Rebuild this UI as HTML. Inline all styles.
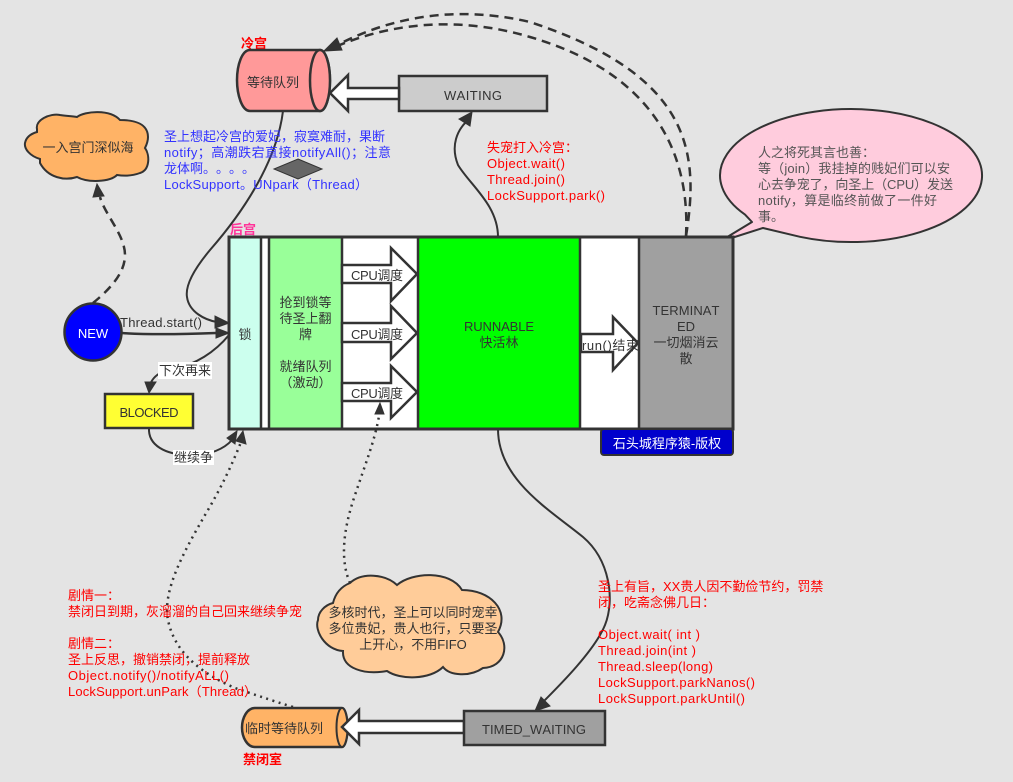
<!DOCTYPE html>
<html><head><meta charset="utf-8"><style>
html,body{margin:0;padding:0;background:#e4e4e4}
svg{display:block}
text{font-family:"Liberation Sans","Noto Sans CJK SC",sans-serif;font-size:13px;fill:#333;text-spacing-trim:space-all;font-kerning:none}
.c{text-anchor:middle}
.r text,text.r{fill:#f00}
.b text{fill:#33f}
.p text{fill:#555}
.s{fill:none;stroke:#333;stroke-width:2.5}
.t{fill:none;stroke:#333;stroke-width:2}
.d{fill:none;stroke:#333;stroke-width:2.5;stroke-dasharray:9 6}
.o{fill:none;stroke:#333;stroke-width:2.5;stroke-dasharray:2 4.5}
.a{fill:#333;stroke:#333}
.w{fill:#fff;stroke:#333;stroke-width:2.5}
</style></head><body>
<svg width="1013" height="782" viewBox="0 0 1013 782" xmlns="http://www.w3.org/2000/svg">
<rect width="1013" height="782" fill="#e4e4e4"/>

<text x="241" y="48" class="r" style="font-weight:bold">冷宫</text>
<text x="230" y="234" style="fill:#f39;font-weight:bold">后宫</text>

<!-- curves under shapes -->
<path class="t" d="M283,111 C277,160 245,210 210,250 C195,268 185,285 187,297 C189,312 205,320 217,322"/>
<polygon class="a" points="229,323 215,316 215,328"/>
<path class="d" d="M686,236 C700,150 690,75 530,22 C470,8 400,10 330,49"/>
<path class="d" d="M686,236 C690,160 660,75 530,37 C480,22 410,15 335,47"/>
<polygon class="a" points="324,51 337,38 342,50"/>
<path class="t" d="M498,237 C498,205 470,185 458,165 C450,145 458,130 466,122"/>
<polygon class="a" points="472,112 470,126 459,119"/>
<path class="t" d="M498,429 C498,480 550,510 583,537 C610,560 615,600 605,625 C595,650 560,685 542,703"/>
<polygon class="a" points="535,711 541,697 550,706"/>
<path class="d" d="M93,303 C115,285 125,270 125,255 C125,235 105,215 100,197"/>
<polygon class="a" points="97,184 104,196 93,197"/>
<path class="o" d="M293,707 C270,700 250,693 235,688 C205,675 175,655 168,620 C162,590 185,550 205,515 C220,490 232,465 241,442"/>
<polygon class="a" points="243,431 246,444 236,441"/>

<!-- waiting cylinder -->
<path d="M250,50 H320 A10,30.5 0 0 1 320,111 H250 C242,111 237,95 237,80 C237,65 242,50 250,50 Z" fill="#f99" stroke="#333" stroke-width="2.5"/>
<ellipse cx="320" cy="80.5" rx="10" ry="30.5" fill="#f99" stroke="#333" stroke-width="2.5"/>
<text x="273" y="87" class="c">等待队列</text>

<rect x="399" y="76" width="148" height="35" fill="#ccc" stroke="#333" stroke-width="2.5"/>
<text x="473" y="100" class="c" textLength="58">WAITING</text>
<polygon class="w" points="399,88 348,88 348,75 330,93 348,111 348,99 399,99"/>

<polygon points="298,159 322,169 298,179 274,169" fill="#666" stroke="#333"/>

<g class="b">
<text x="164" y="141" textLength="221">圣上想起冷宫的爱妃，寂寞难耐，果断</text>
<text x="164" y="157" textLength="227">notify；高潮跌宕直接notifyAll()；注意</text>
<text x="164" y="173">龙体啊。。。。</text>
<text x="164" y="189" textLength="204">LockSupport。UNpark（Thread）</text>
</g>
<g class="r">
<text x="487" y="152">失宠打入冷宫：</text>
<text x="487" y="168" textLength="78">Object.wait()</text>
<text x="487" y="184" textLength="78">Thread.join()</text>
<text x="487" y="200" textLength="118">LockSupport.park()</text>
</g>

<!-- top-left cloud -->
<path d="M37,129 C35,120 50,113 60,115 C66,116 72,116 77,117 C85,111 110,109 120,120 C135,120 148,124 148,137 C148,142 146,146 145,148 C150,155 150,170 140,173 C132,176 123,176 117,175 C110,182 88,183 77,177 C65,181 48,178 40,163 L40,159 C30,156 24,149 25,143 C26,138 30,134 37,132 Z" fill="#ffb366" stroke="#333" stroke-width="2"/>
<text x="88" y="152" class="c">一入宫门深似海</text>

<!-- pink bubble -->
<path d="M719,242 L752,222 L745,214.600 A131,66.500 0 1 1 800,236.800 L763,228 Z" fill="#fcd" stroke="#333" stroke-width="2" stroke-linejoin="round"/>
<g class="p">
<text x="758" y="157">人之将死其言也善：</text>
<text x="758" y="173" textLength="192">等（join）我挂掉的贱妃们可以安</text>
<text x="758" y="189" textLength="195">心去争宠了，向圣上（CPU）发送</text>
<text x="758" y="205" textLength="179">notify，算是临终前做了一件好</text>
<text x="758" y="221">事。</text>
</g>

<!-- main block -->
<rect x="229" y="237" width="504" height="192" fill="#fff"/>
<rect x="229" y="237" width="32" height="192" fill="#cfe" stroke="#333" stroke-width="2.5"/>
<rect x="269" y="237" width="73" height="192" fill="#9f9" stroke="#333" stroke-width="2.5"/>
<rect x="418" y="237" width="162" height="192" fill="#0f0" stroke="#333" stroke-width="2.5"/>
<rect x="639" y="237" width="94" height="192" fill="#a0a0a0" stroke="#333" stroke-width="2.5"/>
<rect x="229" y="237" width="504" height="192" fill="none" stroke="#333" stroke-width="3"/>

<text x="245" y="339" class="c">锁</text>
<text x="305.500" y="307" class="c">抢到锁等</text>
<text x="305.500" y="323" class="c">待圣上翻</text>
<text x="305.500" y="339" class="c">牌</text>
<text x="305.500" y="371" class="c">就绪队列</text>
<text x="305.500" y="387" class="c">（激动）</text>

<polygon class="w" points="342,265 391,265 391,248 417,274 391,301 391,283 342,283"/>
<polygon class="w" points="342,323 391,323 391,306 417,333 391,359 391,342 342,342"/>
<polygon class="w" points="342,383 391,383 391,366 417,392 391,418 391,401 342,401"/>
<text x="377" y="280" class="c" textLength="52">CPU调度</text>
<text x="377" y="339" class="c" textLength="52">CPU调度</text>
<text x="377" y="398" class="c" textLength="52">CPU调度</text>

<text x="499" y="331" class="c" textLength="70">RUNNABLE</text>
<text x="499" y="347" class="c">快活林</text>

<polygon class="w" points="581,334 613,334 613,317 638,343 613,370 613,352 581,352"/>
<text x="582" y="350" textLength="57">run()结束</text>

<text x="686" y="315" class="c" textLength="67">TERMINAT</text>
<text x="686" y="331" class="c">ED</text>
<text x="686" y="347" class="c">一切烟消云</text>
<text x="686" y="363" class="c">散</text>

<rect x="601" y="429" width="132" height="26" rx="3" fill="#00c" stroke="#333" stroke-width="2"/>
<text x="667" y="448" class="c" style="fill:#fff">石头城程序猿-版权</text>

<!-- dotted to third CPU arrow, drawn over the block -->
<path class="o" d="M350,583 C340,560 343,530 355,495 C365,465 375,440 379,416"/>
<polygon class="a" points="380,403 384,414 375,414"/>

<!-- NEW -->
<circle cx="93" cy="332" r="28.500" fill="#00f" stroke="#333" stroke-width="2.5"/>
<text x="93" y="338" class="c" style="fill:#fff">NEW</text>
<path class="s" d="M122,333 C150,335 190,334 216,333"/>
<polygon class="a" points="229,333 216,328 216,338"/>
<text x="120" y="327" textLength="82">Thread.start()</text>

<!-- BLOCKED -->
<path class="t" d="M229,335 C215,352 195,365 175,368 C160,370 152,378 150,385"/>
<polygon class="a" points="149,393 145,382 156,382"/>
<rect x="158" y="362" width="54" height="17" fill="#fff"/>
<text x="185" y="375" class="c">下次再来</text>
<rect x="105" y="394" width="88" height="34" fill="#ff3" stroke="#333" stroke-width="2.5"/>
<text x="149" y="417" class="c" textLength="59">BLOCKED</text>
<path class="t" d="M149,428 C148,445 165,455 190,455 C210,456 225,448 232,440"/>
<polygon class="a" points="237,431 235,444 227,438"/>
<rect x="173" y="450" width="41" height="15" fill="#fff"/>
<text x="193.500" y="462" class="c">继续争</text>

<!-- big cloud -->
<path d="M350,583 C362,572 385,574 397,585 C412,572 450,570 462,590 C490,590 510,610 498,632 C510,645 505,667 483,668 C470,677 450,676 443,667 C430,680 400,680 387,671 C365,675 342,669 343,651 C325,650 314,630 318,620 C318,612 325,605 333,603 C335,595 340,587 350,583 Z" fill="#fc9" stroke="#333" stroke-width="2"/>
<text x="413" y="617" class="c">多核时代，圣上可以同时宠幸</text>
<text x="413" y="633" class="c">多位贵妃，贵人也行，只要圣</text>
<text x="413" y="649" class="c">上开心，不用FIFO</text>

<g class="r">
<text x="68" y="600">剧情一：</text>
<text x="68" y="616">禁闭日到期，灰溜溜的自己回来继续争宠</text>
<text x="68" y="648">剧情二：</text>
<text x="68" y="664">圣上反思，撤销禁闭，提前释放</text>
<text x="68" y="680" textLength="161">Object.notify()/notifyALL()</text>
<text x="68" y="696" textLength="189">LockSupport.unPark（Thread）</text>
<text x="598" y="591">圣上有旨，XX贵人因不勤俭节约，罚禁</text>
<text x="598" y="607">闭，吃斋念佛几日：</text>
<text x="598" y="639" textLength="102">Object.wait( int )</text>
<text x="598" y="655" textLength="98">Thread.join(int )</text>
<text x="598" y="671" textLength="115">Thread.sleep(long)</text>
<text x="598" y="687" textLength="157">LockSupport.parkNanos()</text>
<text x="598" y="703" textLength="147">LockSupport.parkUntil()</text>
</g>

<!-- temp queue -->
<path d="M255,708 H342 A5.500,19.500 0 0 1 342,747 H255 C247,747 242,737 242,727.500 C242,718 247,708 255,708 Z" fill="#ffb366" stroke="#333" stroke-width="2.500"/>
<ellipse cx="342" cy="727.500" rx="5.500" ry="19.500" fill="#ffb366" stroke="#333" stroke-width="2"/>
<text x="284" y="733" class="c">临时等待队列</text>
<polygon class="w" points="464,721 359,721 359,710 342,727 359,744 359,733 464,733"/>
<rect x="464" y="711" width="141" height="34" fill="#a0a0a0" stroke="#333" stroke-width="2.500"/>
<text x="534" y="734" class="c" textLength="104">TIMED_WAITING</text>
<text x="243" y="764" class="r" style="font-weight:bold">禁闭室</text>
</svg>
</body></html>
